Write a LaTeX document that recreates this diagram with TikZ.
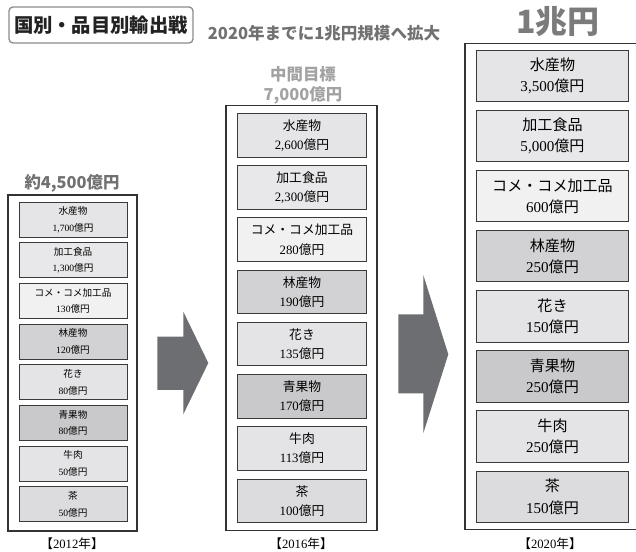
\documentclass[tikz,border=0pt]{standalone}
\usepackage{fontspec}
\setmainfont{Liberation Serif}
\newfontfamily\jp{Noto Sans CJK JP}
\definecolor{boxline}{HTML}{3A3A3A}
\definecolor{outerline}{HTML}{333333}
\definecolor{arrowgray}{HTML}{6D6E71}
\definecolor{titleborder}{HTML}{8A8A8A}
\definecolor{titletext}{HTML}{222222}
\definecolor{headgray}{HTML}{717171}
\definecolor{midgray}{HTML}{A2A2A2}
\definecolor{bigdgray}{HTML}{7B7B7B}
\definecolor{fa}{HTML}{E5E5E7}
\definecolor{fb}{HTML}{E8E8EA}
\definecolor{fc}{HTML}{F1F1F1}
\definecolor{fd}{HTML}{D2D2D4}
\definecolor{fe}{HTML}{E4E4E6}
\definecolor{ff}{HTML}{C9C9CB}
\definecolor{fg}{HTML}{E4E4E6}
\definecolor{fh}{HTML}{DCDCDE}
\newcommand\itemtxt[2]{{\jp #1}\\#2{\jp 億円}}
\begin{document}
\begin{tikzpicture}[x=0.75pt,y=-0.75pt,
  lbox/.style={draw=boxline, line width=0.7pt, minimum width=81pt, minimum height=26.25pt, inner sep=0pt, align=center, font=\fontsize{7.2}{12.5}\selectfont},
  mbox/.style={draw=boxline, line width=0.7pt, minimum width=97pt, minimum height=32.6pt, inner sep=0pt, align=center, font=\fontsize{9.6}{14.3}\selectfont},
  rbox/.style={draw=boxline, line width=0.7pt, minimum width=113.7pt, minimum height=38.6pt, inner sep=0pt, align=center, font=\fontsize{11.3}{15.8}\selectfont},
  outer/.style={draw=outerline, line width=0.8pt},
  blockarrow/.style={fill=arrowgray},
  yearlbl/.style={font=\fontsize{9.5}{11}\selectfont, inner sep=0pt},
  head/.style={font=\jp\bfseries\fontsize{12.3}{15}\selectfont, align=center}
]
\useasboundingbox (0,0) rectangle (636,552);

% title
\node[draw=titleborder, rounded corners=3pt, line width=1pt, minimum width=138pt, minimum height=27pt, inner sep=0pt, font=\jp\bfseries\fontsize{14.5}{16}\selectfont, text=titletext] (title) at (101,25) {国別・品目別輸出戦};
\node[font=\jp\bfseries\fontsize{12.4}{14}\selectfont, text=headgray] (subtitle) at (324,33) {2020年までに1兆円規模へ拡大};
\node[font=\jp\bfseries\fontsize{24}{26}\selectfont, text=bigdgray] (goal) at (558,22) {1兆円};

% headings
\node[head, text=headgray] (h2012) at (72,183) {約4,500億円};
\node[head, text=midgray] (h2016) at (303,85) {中間目標\\7,000億円};

% outer boxes
\draw[outer] (8,195) rectangle (137,531);
\draw[outer] (226,105.7) rectangle (377,530.7);
\draw[outer] (465,43.3) rectangle (640,529.5);

% left column 2012
\node[lbox, fill=fa] (l1) at (73,219.5) {\itemtxt{水産物}{1,700}};
\node[lbox, fill=fb] (l2) at (73,260.2) {\itemtxt{加工食品}{1,300}};
\node[lbox, fill=fc] (l3) at (73,300.8) {\itemtxt{コメ・コメ加工品}{130}};
\node[lbox, fill=fd] (l4) at (73,341.5) {\itemtxt{林産物}{120}};
\node[lbox, fill=fe] (l5) at (73,382.2) {\itemtxt{花き}{80}};
\node[lbox, fill=ff] (l6) at (73,422.8) {\itemtxt{青果物}{80}};
\node[lbox, fill=fg] (l7) at (73,463.5) {\itemtxt{牛肉}{50}};
\node[lbox, fill=fh] (l8) at (73,504.2) {\itemtxt{茶}{50}};

% middle column 2016
\node[mbox, fill=fa] (m1) at (302,135.3) {\itemtxt{水産物}{2,600}};
\node[mbox, fill=fb] (m2) at (302,187.5) {\itemtxt{加工食品}{2,300}};
\node[mbox, fill=fc] (m3) at (302,239.7) {\itemtxt{コメ・コメ加工品}{280}};
\node[mbox, fill=fd] (m4) at (302,291.9) {\itemtxt{林産物}{190}};
\node[mbox, fill=fe] (m5) at (302,344.1) {\itemtxt{花き}{135}};
\node[mbox, fill=ff] (m6) at (302,396.3) {\itemtxt{青果物}{170}};
\node[mbox, fill=fg] (m7) at (302,448.5) {\itemtxt{牛肉}{113}};
\node[mbox, fill=fh] (m8) at (302,500.7) {\itemtxt{茶}{100}};

% right column 2020
\node[rbox, fill=fa] (r1) at (552.5,75.75) {\itemtxt{水産物}{3,500}};
\node[rbox, fill=fb] (r2) at (552.5,135.9) {\itemtxt{加工食品}{5,000}};
\node[rbox, fill=fc] (r3) at (552.5,196.05) {\itemtxt{コメ・コメ加工品}{600}};
\node[rbox, fill=fd] (r4) at (552.5,256.2) {\itemtxt{林産物}{250}};
\node[rbox, fill=fe] (r5) at (552.5,316.35) {\itemtxt{花き}{150}};
\node[rbox, fill=ff] (r6) at (552.5,376.5) {\itemtxt{青果物}{250}};
\node[rbox, fill=fg] (r7) at (552.5,436.65) {\itemtxt{牛肉}{250}};
\node[rbox, fill=fh] (r8) at (552.5,496.8) {\itemtxt{茶}{150}};

% block arrows
\fill[blockarrow] (157.3,336.7) -- (183.3,336.7) -- (183.3,311.7) -- (208.3,363) -- (183.3,414.3) -- (183.3,390) -- (157.3,390) -- cycle;
\fill[blockarrow] (398.3,314.3) -- (423.3,314.3) -- (423.3,275) -- (448.3,354.3) -- (423.3,433.3) -- (423.3,393.3) -- (398.3,393.3) -- cycle;

% year labels
\node[yearlbl] (y2012) at (72,544) {{\jp 【}2012{\jp 年】}};
\node[yearlbl] (y2016) at (301,544) {{\jp 【}2016{\jp 年】}};
\node[yearlbl] (y2020) at (550,544) {{\jp 【}2020{\jp 年】}};
\end{tikzpicture}
\end{document}
